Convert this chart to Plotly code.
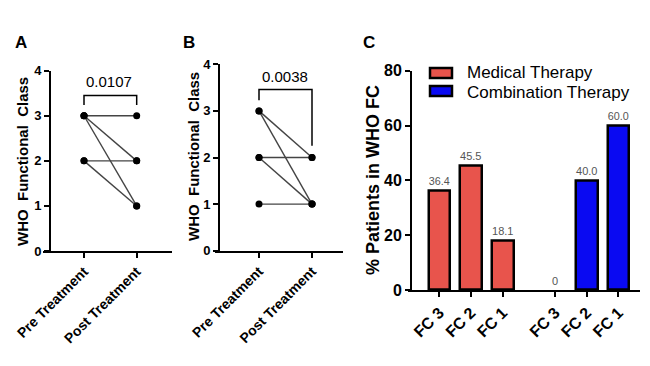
import plotly.graph_objects as go

# ---------------- data ----------------
# Panel A (paired WHO functional class, pre vs post)
a_pre = [3, 3, 3, 2, 2]
a_post = [3, 2, 1, 2, 1]
a_pvalue = "0.0107"
# Panel B
b_pre = [3, 3, 2, 2, 1]
b_post = [2, 1, 2, 1, 1]
b_pvalue = "0.0038"
time_labels = ["Pre Treatment", "Post Treatment"]
# Panel C
fc_labels = ["FC 3", "FC 2", "FC 1"]
medical_pct = [36.4, 45.5, 18.1]
combination_pct = [0, 40.0, 60.0]
medical_text = ["36.4", "45.5", "18.1"]
combination_text = ["0", "40.0", "60.0"]
series_names = ["Medical Therapy", "Combination Therapy"]

# ---------------- layout helpers ----------------
# the page body has an 8px margin, so the figure is drawn 8px in from the window corner
OFF = 8
W, H = 650 - 2 * OFF, 366 - 2 * OFF
FONT = "Arial, 'Liberation Sans', Helvetica, sans-serif"
RED = "#E8544C"
BLUE = "#0A0AF2"


def fx(px):
    return (px - OFF) / W


def fy(py):
    return 1 - (py - OFF) / H


fig = go.Figure()

line_col = "#444444"
for pre, post in zip(a_pre, a_post):
    fig.add_trace(go.Scatter(x=[0, 1], y=[pre, post], mode="lines+markers",
                             line=dict(color=line_col, width=1.4),
                             marker=dict(color="black", size=7),
                             xaxis="x", yaxis="y", showlegend=False, cliponaxis=False))
for pre, post in zip(b_pre, b_post):
    fig.add_trace(go.Scatter(x=[0, 1], y=[pre, post], mode="lines+markers",
                             line=dict(color=line_col, width=1.4),
                             marker=dict(color="black", size=7),
                             xaxis="x2", yaxis="y2", showlegend=False, cliponaxis=False))

pos_med = [0, 1, 2]
pos_comb = [3.65, 4.65, 5.65]


def outline(vals):
    # zero-height bars get no outline
    return [2.5 if v > 0 else 0 for v in vals]


fig.add_trace(go.Bar(x=pos_med, y=medical_pct, text=medical_text, name=series_names[0],
                     textposition="outside", cliponaxis=False,
                     textfont=dict(size=11, color="#555555", family=FONT),
                     marker=dict(color=RED, line=dict(color="black", width=outline(medical_pct))),
                     width=0.68, xaxis="x3", yaxis="y3", showlegend=False))
fig.add_trace(go.Bar(x=pos_comb, y=combination_pct, text=combination_text, name=series_names[1],
                     textposition="outside", cliponaxis=False,
                     textfont=dict(size=11, color="#555555", family=FONT),
                     marker=dict(color=BLUE, line=dict(color="black", width=outline(combination_pct))),
                     width=0.68, xaxis="x3", yaxis="y3", showlegend=False))

base = dict(showline=True, linecolor="black", linewidth=2, ticks="outside", ticklen=5,
            tickwidth=2, tickcolor="black", showgrid=False, zeroline=False, automargin=False)


def tf(size):
    return dict(family=FONT, size=size, color="black", weight="bold")


# x-axis lines start a few px left of the y-axis, as in the reference
fig.update_layout(
    width=W, height=H, margin=dict(l=0, r=0, t=0, b=0, autoexpand=False),
    paper_bgcolor="white", plot_bgcolor="white", showlegend=False, bargap=0,
    xaxis=dict(domain=[fx(43), fx(172)], range=[-(84 - 43) / 52.7, 1.67], tickvals=[0, 1],
               ticktext=time_labels, tickangle=-45, anchor="y", tickfont=tf(14), **base),
    yaxis=dict(domain=[fy(251), fy(70.7)], range=[0, 4], dtick=1, anchor="free", position=fx(50),
               tickfont=tf(13), **base),
    xaxis2=dict(domain=[fx(215), fx(343)], range=[-(259 - 215) / 53.0, 1.585], tickvals=[0, 1],
                ticktext=time_labels, tickangle=-45, anchor="y2", tickfont=tf(14), **base),
    yaxis2=dict(domain=[fy(250.7), fy(64.3)], range=[0, 4], dtick=1, anchor="free", position=fx(219),
                tickfont=tf(13), **base),
    xaxis3=dict(domain=[fx(408), fx(640)], range=[-(439.3 - 408) / 31.7, 6.33], tickvals=pos_med + pos_comb,
                ticktext=fc_labels + fc_labels, tickangle=-45, anchor="y3", tickfont=tf(16), **base),
    yaxis3=dict(domain=[fy(290), fy(70.7)], range=[0, 80], dtick=20, anchor="free", position=fx(411),
                tickfont=tf(16), **base),
)

# brackets for significance
fig.add_shape(type="path", path="M 0,3.24 L 0,3.45 L 1,3.45 L 1,3.24", xref="x", yref="y",
              line=dict(color="black", width=1.5))
fig.add_shape(type="path", path="M 0,3.23 L 0,3.46 L 1,3.46 L 1,2.25", xref="x2", yref="y2",
              line=dict(color="black", width=1.5))

ann = []
ann.append(dict(text=a_pvalue, x=fx(109), y=fy(81.5), font=dict(size=15)))
ann.append(dict(text=b_pvalue, x=fx(285), y=fy(76.5), font=dict(size=15)))
ann.append(dict(text="A", x=fx(21), y=fy(43), font=dict(size=17, weight="bold")))
ann.append(dict(text="B", x=fx(189), y=fy(43), font=dict(size=17, weight="bold")))
ann.append(dict(text="C", x=fx(369), y=fy(42), font=dict(size=17, weight="bold")))
ann.append(dict(text="WHO  Functional  Class", x=fx(23), y=fy(162), textangle=-90,
                font=dict(size=15, weight="bold")))
ann.append(dict(text="WHO  Functional  Class", x=fx(193), y=fy(157), textangle=-90,
                font=dict(size=15, weight="bold")))
ann.append(dict(text="% Patients in WHO FC", x=fx(373), y=fy(180), textangle=-90,
                font=dict(size=18, weight="bold")))
# legend text
ann.append(dict(text=series_names[0], x=fx(466), y=fy(72.5), xanchor="left", borderpad=0,
                font=dict(size=17)))
ann.append(dict(text=series_names[1], x=fx(466), y=fy(92), xanchor="left", borderpad=0,
                font=dict(size=17)))
for a in ann:
    a.setdefault("xanchor", "center")
    a["yanchor"] = "middle"
    a["xref"] = "paper"
    a["yref"] = "paper"
    a["showarrow"] = False
    f = a["font"]
    f.setdefault("family", FONT)
    f.setdefault("color", "black")
fig.update_layout(annotations=ann)

# legend swatches
fig.add_shape(type="rect", xref="paper", yref="paper", x0=fx(430), x1=fx(452), y0=fy(78), y1=fy(68),
              fillcolor=RED, line=dict(color="black", width=2.5))
fig.add_shape(type="rect", xref="paper", yref="paper", x0=fx(430), x1=fx(452), y0=fy(96), y1=fy(86),
              fillcolor=BLUE, line=dict(color="black", width=2.5))

fig.write_html("out.html")
